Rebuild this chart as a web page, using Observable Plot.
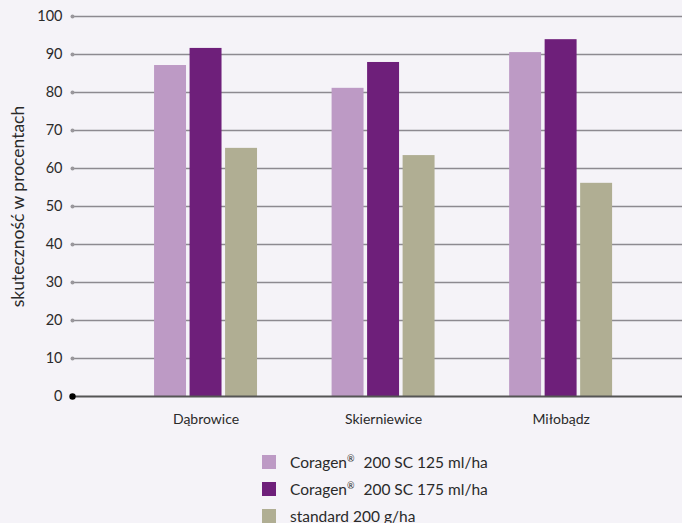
<!DOCTYPE html>
<html><head><meta charset="utf-8">
<script src="https://cdn.jsdelivr.net/npm/d3@7"></script>
<script src="https://cdn.jsdelivr.net/npm/@observablehq/plot@0.6"></script>
<style>
html,body{margin:0;padding:0;background:#f5f3f8;}
body{font-family:Lato,"Open Sans",sans-serif;color:#2a2a2a;width:682px;}
#legend{padding-left:262px;margin-top:8px;font-size:15.5px;}
.row{height:27px;display:flex;align-items:center;}
.sw{width:14px;height:14px;margin-right:14px;flex:none;}
sup{font-size:9px;vertical-align:6px;margin-right:5px;}
</style></head><body><div id="chart"></div><div id="legend"></div><script>
const categories = ["Dąbrowice", "Skierniewice", "Miłobądz"];
const series = ["Coragen® 200 SC 125 ml/ha", "Coragen® 200 SC 175 ml/ha", "standard 200 g/ha"];
const colors = ["#bd9ac5", "#6e1f7a", "#b0ae93"];
const values125 = [87.1, 81.1, 90.5];
const values175 = [91.6, 87.9, 93.9];
const valuesStd = [65.3, 63.4, 56.1];
const yTicks = [0, 10, 20, 30, 40, 50, 60, 70, 80, 90, 100];
const yLabel = "skuteczność w procentach";

const seriesValues = [values125, values175, valuesStd];
const data = [];
const xDomain = [];
categories.forEach((c, ci) => {
  series.forEach((s, si) => {
    const key = c + "|" + si;
    xDomain.push(key);
    data.push({cat: c, ser: s, key, value: seriesValues[si][ci]});
  });
  if (ci < categories.length - 1) { xDomain.push("gap" + ci + "a"); xDomain.push("gap" + ci + "b"); }
});
const tickKeys = categories.map(c => c + "|1");

const chart = Plot.plot({
  width: 682, height: 440,
  marginLeft: 72, marginRight: 0, marginTop: 16, marginBottom: 44,
  style: {background: "transparent", fontFamily: "Lato, 'Open Sans', sans-serif", fontSize: "14px", color: "#2a2a2a"},
  x: {type: "band", domain: xDomain, paddingInner: 0.1, paddingOuter: 2.14, align: 0.54, round: false, axis: null},
  y: {domain: [0, 100], axis: null},
  color: {domain: series, range: colors},
  marks: [
    Plot.ruleY(yTicks.filter(d => d > 0), {stroke: "#8d8a90", strokeWidth: 1.5}),
    Plot.barY(data, {x: "key", y: "value", fill: "ser"}),
    Plot.ruleY([0], {stroke: "#555", strokeWidth: 2}),
    Plot.dot(yTicks.filter(d => d > 0), {y: d => d, frameAnchor: "left", r: 2, fill: "#9a979c"}),
    Plot.dot([0], {y: d => d, frameAnchor: "left", r: 3.2, fill: "#000"}),
    Plot.axisY(yTicks, {tickSize: 0, tickPadding: 10, fontSize: 14.5, label: null}),
    Plot.text([yLabel], {text: d => d, frameAnchor: "left", dx: -54, rotate: -90, textAnchor: "middle", fontSize: 17.5, fill: "#2a2a2a"}),
    Plot.axisX(tickKeys, {tickSize: 0, tickPadding: 18, tickFormat: k => k.split("|")[0], fontSize: 14, label: null})
  ]
});
document.getElementById("chart").appendChild(chart);

const legend = document.getElementById("legend");
series.forEach((s, i) => {
  const row = document.createElement("div");
  row.className = "row";
  const sw = document.createElement("span");
  sw.className = "sw"; sw.style.background = colors[i];
  const lab = document.createElement("span");
  lab.innerHTML = s.replace("®", "<sup>®</sup>");
  row.appendChild(sw); row.appendChild(lab);
  legend.appendChild(row);
});
</script></body></html>
